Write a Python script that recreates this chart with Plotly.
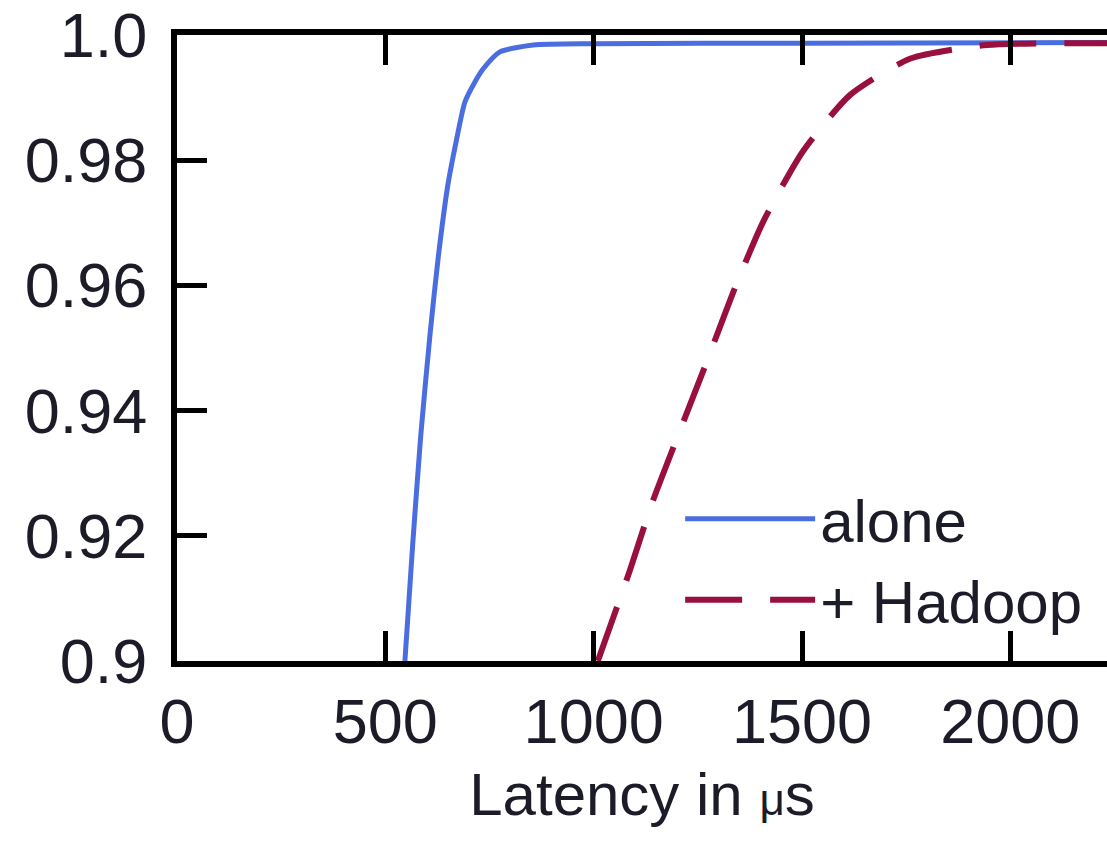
import plotly.graph_objects as go

# ---- data ----
alone_x = [547, 565, 585, 607, 627, 650, 670, 691, 715, 735, 775, 855, 1000, 1500, 2232]
alone_y = [0.900, 0.918, 0.936, 0.952, 0.9645, 0.976, 0.9830, 0.9893, 0.9925, 0.9946, 0.9973, 0.9984, 0.9986, 0.9987, 0.9988]

hadoop_x = [1010, 1087, 1140, 1207, 1272, 1339, 1407, 1502, 1615, 1759, 1944, 2232]
hadoop_y = [0.900, 0.9145, 0.9252, 0.9368, 0.9479, 0.9596, 0.9702, 0.9814, 0.9904, 0.9962, 0.9984, 0.9987]

x_ticks = [0, 500, 1000, 1500, 2000]
y_ticks = [0.9, 0.92, 0.94, 0.96, 0.98, 1.0]
y_tick_labels = ["0.9", "0.92", "0.94", "0.96", "0.98", "1.0"]

FONT = "Liberation Sans, Arial, Helvetica, sans-serif"
TXT = "#1c1c28"

fig = go.Figure()
fig.add_trace(go.Scatter(x=alone_x, y=alone_y, mode="lines", name="alone",
                         line=dict(color="#4a6ee0", width=5, shape="spline", smoothing=0.6)))
fig.add_trace(go.Scatter(x=hadoop_x, y=hadoop_y, mode="lines", name="+ Hadoop",
                         line=dict(color="#99103f", width=6, dash="57px,28px", shape="spline", smoothing=0.6)))

fig.update_layout(
    width=1107, height=841,
    margin=dict(l=177, r=0, t=33, b=180),
    paper_bgcolor="white", plot_bgcolor="white",
    font=dict(family=FONT, size=63, color=TXT),
    showlegend=True,
    legend=dict(x=0.541, y=0.3, xanchor="left", yanchor="top",
                bgcolor="rgba(0,0,0,0)", font=dict(size=60, color=TXT),
                itemwidth=130, tracegroupgap=0),
    xaxis=dict(range=[0, 2232], tickvals=x_ticks, ticks="inside", ticklen=30, tickwidth=5,
               tickcolor="black", showline=True, linecolor="black", linewidth=6, mirror="ticks",
               showgrid=False, zeroline=False, ticklabelstandoff=0, ticklabeloverflow="allow",
               title=dict(text="Latency in <span style='font-size:44px'>μ</span>s",
                          font=dict(size=60, color=TXT), standoff=20)),
    yaxis=dict(range=[0.9, 1.0], tickvals=y_ticks, ticktext=y_tick_labels, ticks="inside",
               ticklen=30, tickwidth=5, tickcolor="black", showline=True, linecolor="black",
               linewidth=6, showgrid=False, zeroline=False, ticklabelstandoff=11,
               ticklabeloverflow="allow"),
    yaxis2=dict(range=[0.9, 1.0], overlaying="y", side="right", tickvals=y_ticks,
                ticks="inside", ticklen=25, tickwidth=5, tickcolor="black", showline=False,
                showticklabels=False, showgrid=False, zeroline=False),
)

fig.write_html("out.html")
